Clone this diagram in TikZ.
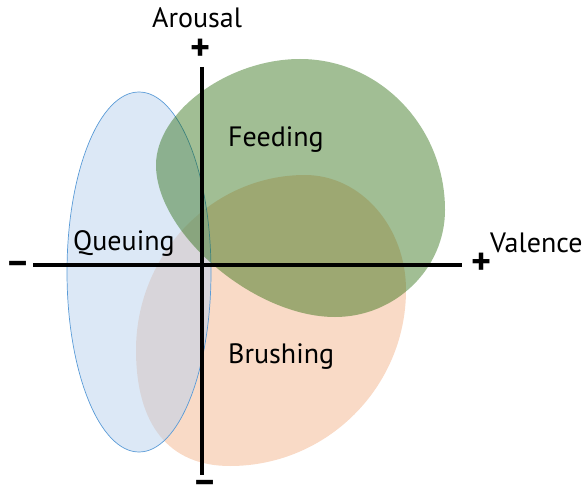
\documentclass[tikz,border=0pt]{standalone}
\usepackage{fontspec}
\setmainfont{PT Sans}
\definecolor{feedgreen}{RGB}{30,100,0}
\definecolor{brushorange}{RGB}{249,218,198}
\definecolor{queueblue}{RGB}{185,210,238}
\definecolor{queueline}{RGB}{90,155,215}
\tikzset{
  lbl/.style={anchor=base west, inner sep=0pt, font=\fontsize{28bp}{32bp}\selectfont},
  sign/.style={inner sep=0pt, font=\bfseries\fontsize{38bp}{42bp}\selectfont},
  axisline/.style={line width=4bp, black},
}
\begin{document}
\begin{tikzpicture}[x=1bp,y=-1bp]
\useasboundingbox (0,0) rectangle (586,488);
% Brushing (orange)
\fill[brushorange] (305,175) .. controls (361,175) and (406,227) .. (406,290)
  .. controls (406,387) and (327,466) .. (230,466)
  .. controls (169,466) and (136,425) .. (136,350)
  .. controls (136,254) and (212,175) .. (305,175) -- cycle;
% Queuing (blue)
\fill[queueblue, fill opacity=0.5] (139,272) ellipse [x radius=72, y radius=180];
\draw[queueline, line width=0.7bp] (139,272) ellipse [x radius=72, y radius=180];
% Feeding (green)
\fill[feedgreen, fill opacity=0.42] (300,59) .. controls (380,59) and (445,127) .. (445,210)
  .. controls (445,269) and (395,317) .. (335,317)
  .. controls (254,317) and (156,233) .. (156,165)
  .. controls (156,112) and (228,59) .. (300,59) -- cycle;
% axes
\coordinate (xl) at (33,265);
\coordinate (xr) at (462,265);
\coordinate (yt) at (202,67);
\coordinate (yb) at (202,475);
\draw[axisline] (xl) -- (xr);
\draw[axisline] (yt) -- (yb);
% signs
\node[sign] (ptop) at (201,50) {+};
\node[sign] (pright) at (482,263.5) {+};
\node[sign, anchor=north] (mleft) at (18,261.5) {–};
\node[sign, anchor=north] (mbot) at (205,480) {–};
% labels
\node[lbl] (arousal) at (152,28) {Arousal};
\node[lbl] (valence) at (490,252) {Valence};
\node[lbl] (feeding) at (228,147) {Feeding};
\node[lbl] (queuing) at (73,250) {Queuing};
\node[lbl] (brushing) at (228,363) {Brushing};
\end{tikzpicture}
\end{document}
